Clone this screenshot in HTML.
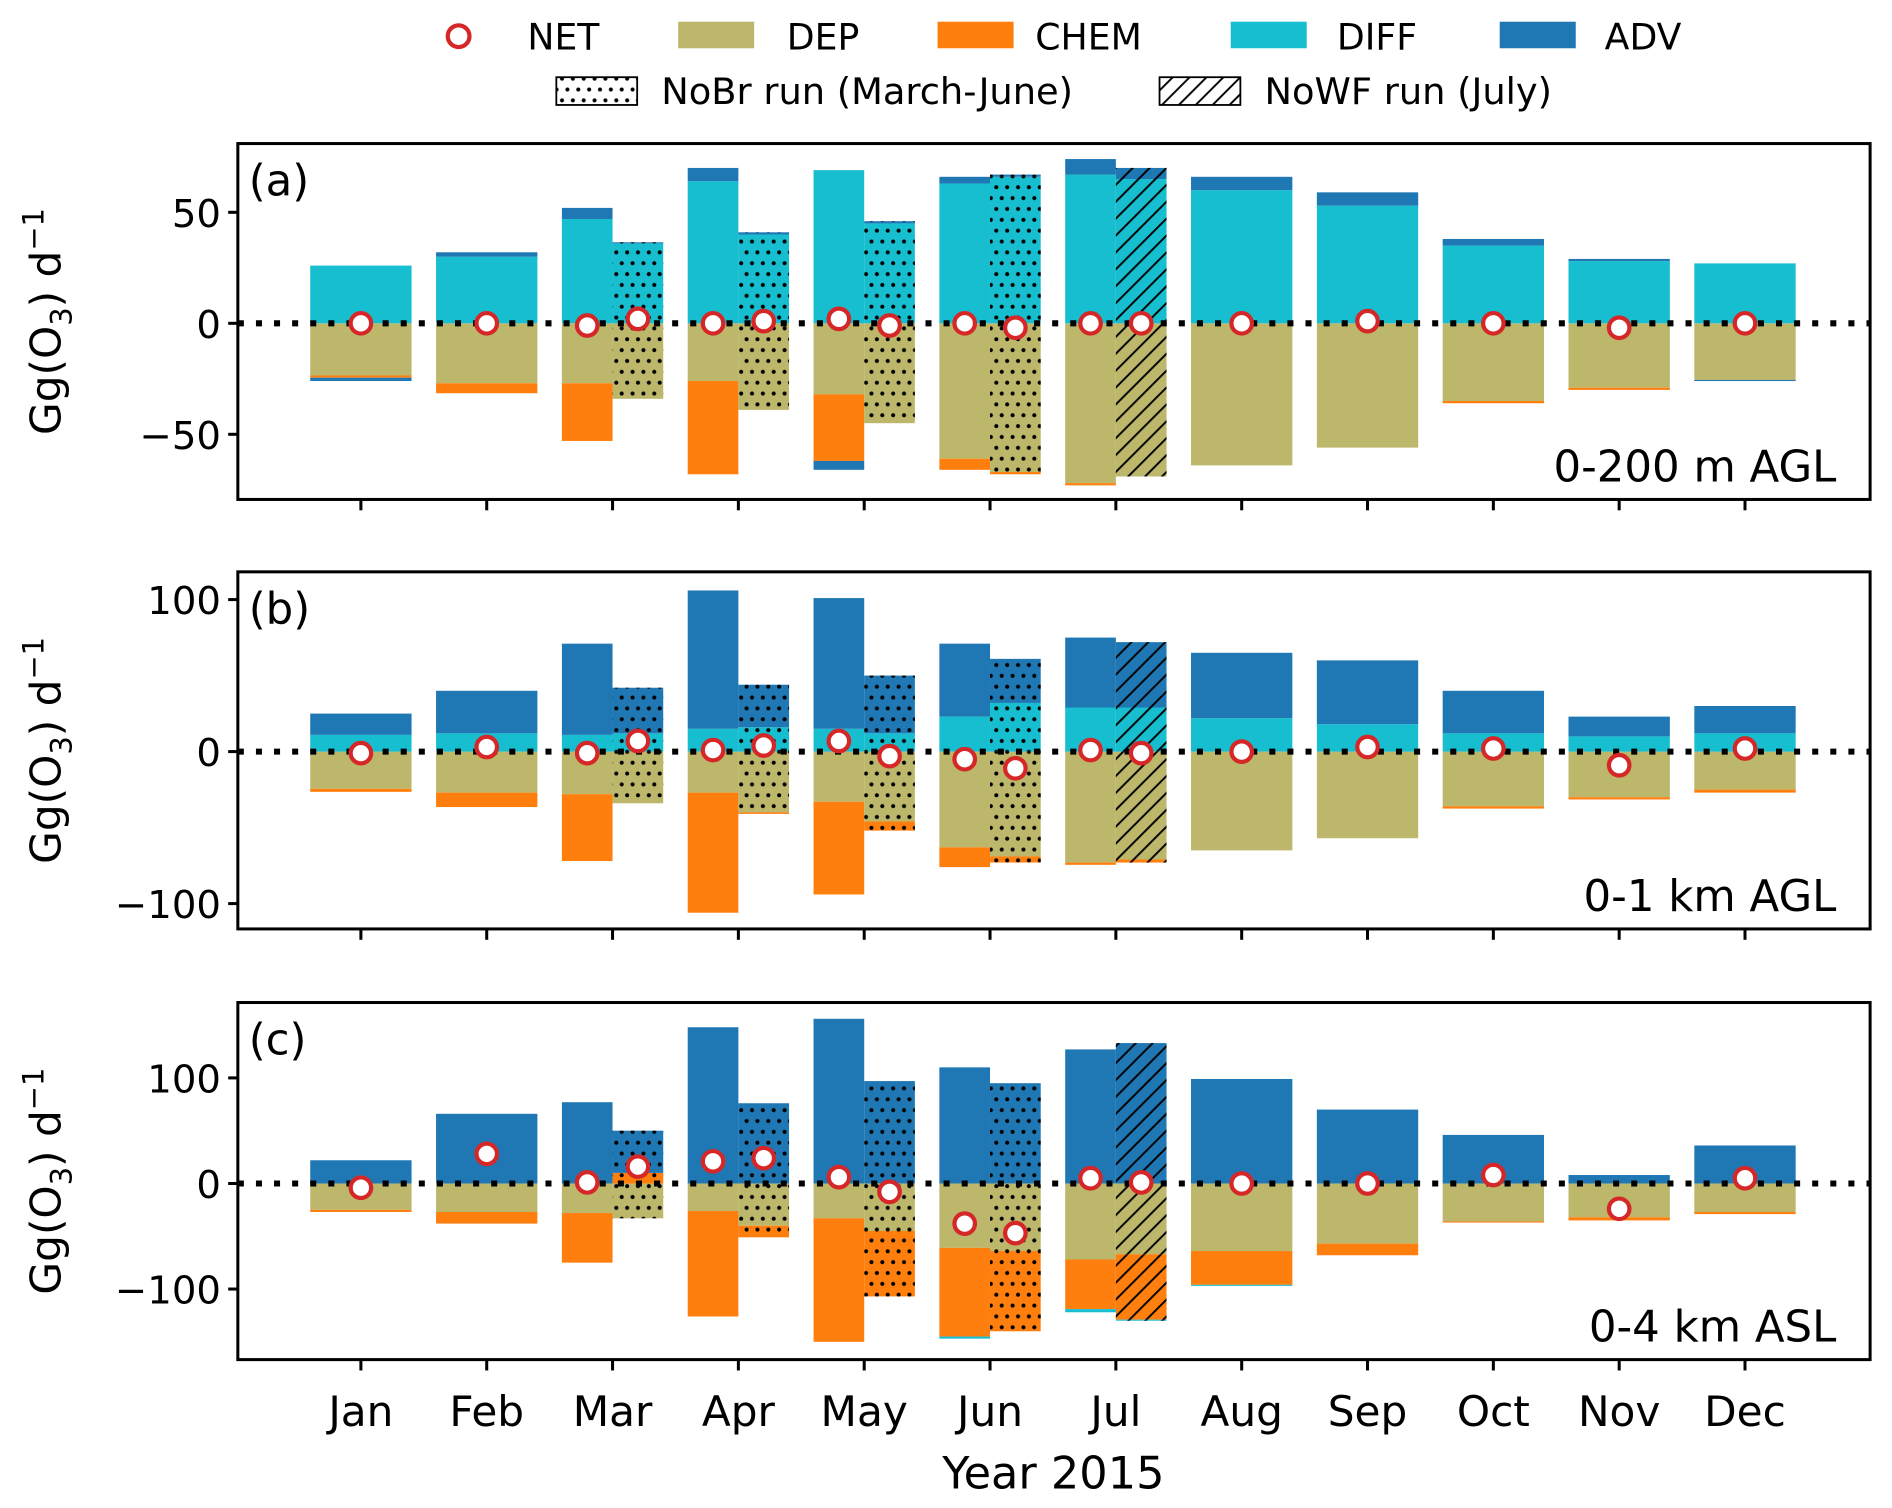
<!DOCTYPE html>
<html><head><meta charset="utf-8">
<style>
html,body{margin:0;padding:0;background:#fff;}
svg{display:block;font-family:"DejaVu Sans","Liberation Sans",sans-serif;}
</style></head>
<body>
<svg id="chart" width="1892" height="1508" viewBox="0 0 1568 1250" xmlns="http://www.w3.org/2000/svg">
<defs>
<pattern id="dots" patternUnits="userSpaceOnUse" width="9" height="18">
<circle cx="2.2" cy="2.2" r="1.7" fill="#000"/>
<circle cx="6.7" cy="11.2" r="1.7" fill="#000"/>
</pattern>
<pattern id="hatch" patternUnits="userSpaceOnUse" width="14" height="14">
<path d="M-2,16 L16,-2 M-9,9 L9,-9 M5,23 L23,5" stroke="#000" stroke-width="1.6"/>
</pattern>
</defs>
<g id="legend">
<g><circle cx="380" cy="30" r="9" fill="#fff" stroke="#d62728" stroke-width="3.5"/><text x="437" y="41" font-size="30">NET</text></g>
<g><rect x="562" y="18" width="63" height="22" fill="#bdb76b"/><text x="652" y="41" font-size="30">DEP</text></g>
<g><rect x="777" y="18" width="63" height="22" fill="#ff7f0e"/><text x="858" y="41" font-size="30">CHEM</text></g>
<g><rect x="1020" y="18" width="63" height="22" fill="#17becf"/><text x="1108" y="41" font-size="30">DIFF</text></g>
<g><rect x="1243" y="18" width="63" height="22" fill="#1f77b4"/><text x="1330" y="41" font-size="30">ADV</text></g>
<g><rect x="461" y="64" width="67" height="23" fill="url(#dots)" stroke="#000" stroke-width="1.5"/><text x="548" y="86" font-size="30.5">NoBr run (March-June)</text></g>
<g><rect x="961" y="64" width="67" height="23" fill="url(#hatch)" stroke="#000" stroke-width="1.5"/><text x="1048" y="86" font-size="30.5">NoWF run (July)</text></g>
</g>
<g id="panels"></g>
<text x="873" y="1234" font-size="37" text-anchor="middle">Year 2015</text>
</svg>
<script>
const months = ["Jan","Feb","Mar","Apr","May","Jun","Jul","Aug","Sep","Oct","Nov","Dec"];
const sensType = [null,null,"dots","dots","dots","dots","hatch",null,null,null,null,null];

// Panel (a) 0-200 m AGL
const aDEP  = [-23.5,-27,-27,-26,-32,-61,-72,-64,-56,-35,-29,-25.5];
const aCHEM = [-1,-4.5,-26,-42,-30,-5,-1,0,0,-1,-1,0];
const aDIFF = [26,30,47,64,69,63,67,60,53,35,28,27];
const aADV  = [-1.5,2,5,6,-4,3,7,6,6,3,1,-0.5];
const aNET  = [0,0,-1,0,2,0,0,0,1,0,-2,0];
const aDEPs  = [null,null,-34,-39,-45,-67,-69,null,null,null,null,null];
const aCHEMs = [null,null,0,0,0,-1,0,null,null,null,null,null];
const aDIFFs = [null,null,36,40,45,66,65,null,null,null,null,null];
const aADVs  = [null,null,0.5,1,1,1,5,null,null,null,null,null];
const aNETs  = [null,null,2,1,-1,-2,0,null,null,null,null,null];

// Panel (b) 0-1 km AGL
const bDEP  = [-24.5,-27,-28,-27,-33,-63,-73,-65,-57,-36,-30,-25];
const bCHEM = [-2,-9.5,-44,-79,-61,-13,-1.5,0,0,-1.5,-1.5,-2];
const bDIFF = [11,12,11,15,15,23,29,22,18,12,10,12];
const bADV  = [14,28,60,91,86,48,46,43,42,28,13,18];
const bNET  = [-1,3,-1,1,7,-5,1,0,3,2,-9,2];
const bDEPs  = [null,null,-34,-40,-46,-69,-71,null,null,null,null,null];
const bCHEMs = [null,null,0,-1,-6,-4,-2,null,null,null,null,null];
const bDIFFs = [null,null,12,16,12,32,29,null,null,null,null,null];
const bADVs  = [null,null,30,28,38,29,43,null,null,null,null,null];
const bNETs  = [null,null,7,4,-3,-11,-1,null,null,null,null,null];

// Panel (c) 0-4 km ASL
const cDEP  = [-25,-27,-28,-26,-33,-61,-72,-64,-57,-36,-32,-27];
const cCHEM = [-2,-11,-47,-100,-117,-84,-47,-32,-11,-1,-3,-2];
const cDIFF = [0,0,0,0,0,-2,-3,-1,0,0,0,0];
const cADV  = [22,66,77,148,156,110,127,99,70,46,8,36];
const cNET  = [-4,28,1,21,6,-38,5,0,0,8,-24,5];
const cDEPs  = [null,null,-33,-40,-45,-64,-67,null,null,null,null,null];
const cCHEMs = [null,null,10,-11,-62,-76,-62,null,null,null,null,null];
const cDIFFs = [null,null,0,0,0,0,-1,null,null,null,null,null];
const cADVs  = [null,null,40,76,97,95,133,null,null,null,null,null];
const cNETs  = [null,null,16,24,-8,-47,1,null,null,null,null,null];

const yTicksA = [-50,0,50];
const yTicksB = [-100,0,100];
const yTicksC = [-100,0,100];
const panelLabels = ["(a)","(b)","(c)"];
const regionLabels = ["0-200 m AGL","0-1 km AGL","0-4 km ASL"];

const NS = "http://www.w3.org/2000/svg";
const root = document.getElementById("panels");
const colors = {DEP:"#bdb76b",CHEM:"#ff7f0e",DIFF:"#17becf",ADV:"#1f77b4"};
const X0 = 197, X1 = 1550;
function xTick(i){ return 299 + i*104.3; }
function mk(tag, attrs, parent){
  const e = document.createElementNS(NS, tag);
  for (const k in attrs) e.setAttribute(k, attrs[k]);
  parent.appendChild(e); return e;
}
const panels = [
  {top:119,bot:414,zeroY:268,ppu:1.84,ticks:yTicksA,main:[aDEP,aCHEM,aDIFF,aADV,aNET],sens:[aDEPs,aCHEMs,aDIFFs,aADVs,aNETs],name:"a"},
  {top:474,bot:770,zeroY:623,ppu:1.26,ticks:yTicksB,main:[bDEP,bCHEM,bDIFF,bADV,bNET],sens:[bDEPs,bCHEMs,bDIFFs,bADVs,bNETs],name:"b"},
  {top:831,bot:1127,zeroY:981,ppu:0.875,ticks:yTicksC,main:[cDEP,cCHEM,cDIFF,cADV,cNET],sens:[cDEPs,cCHEMs,cDIFFs,cADVs,cNETs],name:"c"}
];
const comps = ["DEP","CHEM","DIFF","ADV"];

panels.forEach((p, pi) => {
  const g = mk("g", {}, root);
  
  
  const y = v => p.zeroY - v * p.ppu;
  const circles = [];
  function drawStack(vals, i, x, w, pattern, label){
    let pos = 0, neg = 0;
    comps.forEach((c, ci) => {
      const v = vals[ci][i];
      if (!v) return;
      let y0, y1;
      if (v > 0){ y0 = y(pos + v); y1 = y(pos); pos += v; }
      else { y0 = y(neg); y1 = y(neg + v); neg += v; }
      const r = mk("rect", {x:x, y:y0, width:w, height:Math.max(0.8, y1-y0), fill:colors[c]}, g);
      
      
      if (pattern){
        const h = mk("rect", {x:x, y:y0, width:w, height:Math.max(0.8, y1-y0), fill:"url(#"+pattern+")"}, g);
        
        
      }
    });
    circles.push([x + w/2, y(vals[4][i]), months[i].toLowerCase() + label]);
  }
  months.forEach((m, i) => {
    const xc = xTick(i);
    if (sensType[i]){
      drawStack(p.main, i, xc - 42, 42, null, '');
      drawStack(p.sens, i, xc, 42, sensType[i], '-sens');
    } else {
      drawStack(p.main, i, xc - 42, 84, null, '');
    }
  });
  const zl = mk("line", {x1:X0, x2:X1, y1:p.zeroY, y2:p.zeroY, stroke:"#000", "stroke-width":5, "stroke-dasharray":"5 10"}, g);
  
  
  circles.forEach(c => {
    const ci = mk("circle", {cx:c[0], cy:c[1], r:8.5, fill:"#fff", stroke:"#d62728", "stroke-width":3.5}, g);
    
    
  });
  const fr = mk("rect", {x:X0, y:p.top, width:X1-X0, height:p.bot-p.top, fill:"none", stroke:"#000", "stroke-width":2.5}, g);
  
  
  p.ticks.forEach(t => {
    const ty = y(t);
    mk("line", {x1:X0-8, x2:X0, y1:ty, y2:ty, stroke:"#000", "stroke-width":2.5}, g);
    const tl = mk("text", {x:X0-14, y:ty+12, "font-size":32, "text-anchor":"end"}, g);
    tl.textContent = t < 0 ? "\u2212" + Math.abs(t) : String(t);
    
    
  });
  months.forEach((m, i) => {
    mk("line", {x1:xTick(i), x2:xTick(i), y1:p.bot, y2:p.bot+9, stroke:"#000", "stroke-width":2.5}, g);
  });
  const pl = mk("text", {x:206, y:p.top+43, "font-size":36}, g);
  pl.textContent = panelLabels[pi];
  
  
  const rl = mk("text", {x:1522, y:p.bot-15, "font-size":36, "text-anchor":"end"}, g);
  rl.textContent = regionLabels[pi];
  
  
  const cy = (p.top + p.bot)/2;
  const yl = mk("text", {x:50, y:cy, "font-size":35, "text-anchor":"middle", transform:"rotate(-90 50 "+cy+")"}, g);
  yl.innerHTML = 'Gg(O<tspan font-size="24" dy="9">3</tspan><tspan dy="-9">) d</tspan><tspan font-size="24" dy="-14">\u22121</tspan>';
  
  
});
const bottom = panels[2].bot;
months.forEach((m, i) => {
  const t = mk("text", {x:xTick(i), y:bottom+55, "font-size":35, "text-anchor":"middle"}, root);
  t.textContent = m;
  
  
});
</script>
</body></html>
